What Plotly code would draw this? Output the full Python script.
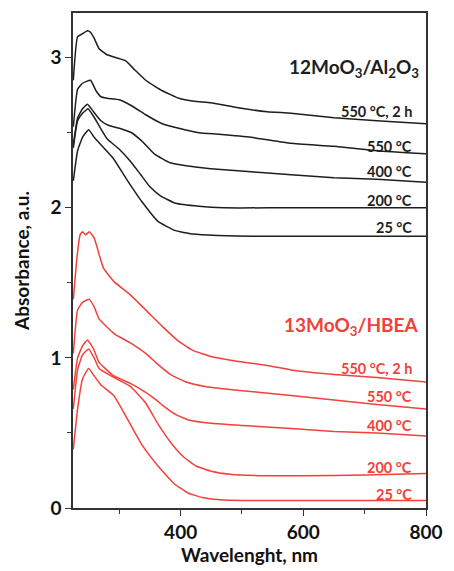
import plotly.graph_objects as go

# ---- data ----
# 12MoO3/Al2O3 (black)
al_550_2h_wl = [225, 232, 240, 248, 253, 259, 267, 280, 295, 310, 325, 343, 370, 397, 422, 449, 489, 541, 580, 650, 720, 800]
al_550_2h_a  = [2.85, 3.14, 3.16, 3.18, 3.17, 3.13, 3.06, 3.02, 3.00, 2.98, 2.92, 2.85, 2.78, 2.73, 2.71, 2.70, 2.67, 2.64, 2.63, 2.60, 2.58, 2.56]

al_550_wl = [225, 232, 240, 253, 262, 270, 280, 300, 320, 343, 370, 397, 430, 462, 515, 580, 650, 720, 800]
al_550_a  = [2.54, 2.79, 2.83, 2.85, 2.78, 2.74, 2.73, 2.72, 2.68, 2.62, 2.56, 2.53, 2.50, 2.49, 2.47, 2.43, 2.41, 2.38, 2.36]

al_400_wl = [225, 232, 240, 248, 258, 270, 282, 300, 320, 338, 357, 383, 409, 449, 515, 580, 650, 720, 800]
al_400_a  = [2.42, 2.60, 2.66, 2.69, 2.64, 2.58, 2.55, 2.53, 2.50, 2.44, 2.36, 2.30, 2.28, 2.26, 2.24, 2.22, 2.20, 2.19, 2.17]

al_200_wl = [225, 232, 240, 249, 258, 268, 280, 300, 318, 335, 350, 367, 392, 430, 470, 560, 650, 800]
al_200_a  = [2.40, 2.58, 2.63, 2.66, 2.61, 2.54, 2.46, 2.39, 2.31, 2.22, 2.14, 2.08, 2.03, 2.01, 2.00, 2.00, 2.00, 2.00]

al_25_wl = [225, 232, 240, 250, 259, 270, 290, 312, 337, 363, 390, 420, 460, 520, 600, 700, 800]
al_25_a  = [2.18, 2.38, 2.47, 2.52, 2.47, 2.42, 2.33, 2.19, 2.04, 1.91, 1.85, 1.825, 1.815, 1.81, 1.81, 1.81, 1.81]

# 13MoO3/HBEA (red)
hb_550_2h_wl = [225, 231, 236, 240, 245, 251, 259, 267, 274, 291, 318, 343, 370, 397, 420, 449, 489, 541, 580, 650, 720, 800]
hb_550_2h_a  = [1.39, 1.67, 1.82, 1.84, 1.82, 1.84, 1.80, 1.69, 1.60, 1.51, 1.42, 1.32, 1.21, 1.11, 1.05, 1.01, 0.98, 0.95, 0.92, 0.89, 0.87, 0.84]

hb_550_wl = [225, 232, 240, 251, 259, 267, 292, 318, 343, 362, 383, 409, 440, 480, 530, 580, 650, 720, 800]
hb_550_a  = [1.03, 1.32, 1.37, 1.39, 1.34, 1.26, 1.16, 1.10, 1.03, 0.96, 0.89, 0.84, 0.81, 0.79, 0.77, 0.75, 0.72, 0.69, 0.66]

hb_400_wl = [225, 232, 240, 248, 258, 267, 291, 318, 343, 360, 375, 393, 415, 450, 500, 580, 650, 720, 800]
hb_400_a  = [0.79, 1.00, 1.08, 1.12, 1.06, 0.97, 0.88, 0.83, 0.77, 0.72, 0.67, 0.62, 0.585, 0.565, 0.55, 0.53, 0.51, 0.50, 0.48]

hb_200_wl = [225, 232, 240, 250, 259, 267, 291, 318, 343, 363, 385, 405, 425, 450, 480, 530, 600, 700, 800]
hb_200_a  = [0.66, 0.92, 1.02, 1.06, 1.00, 0.93, 0.87, 0.81, 0.70, 0.56, 0.43, 0.34, 0.28, 0.245, 0.225, 0.215, 0.215, 0.22, 0.23]

hb_25_wl = [225, 232, 240, 250, 259, 270, 291, 315, 337, 363, 390, 412, 435, 465, 500, 560, 650, 800]
hb_25_a  = [0.39, 0.66, 0.86, 0.93, 0.88, 0.82, 0.75, 0.58, 0.42, 0.28, 0.16, 0.10, 0.07, 0.055, 0.05, 0.05, 0.05, 0.05]

al_labels = ["550 °C, 2 h", "550 °C", "400 °C", "200 °C", "25 °C"]
al_label_y = [2.64, 2.41, 2.24, 2.05, 1.87]
hb_labels = ["550 °C, 2 h", "550 °C", "400 °C", "200 °C", "25 °C"]
hb_label_y = [0.93, 0.74, 0.55, 0.27, 0.09]

al_title = "12MoO<sub>3</sub>/Al<sub>2</sub>O<sub>3</sub>"
hb_title = "13MoO<sub>3</sub>/HBEA"
al_title_y = 2.93
hb_title_y = 1.21

BLACK = "#1e1e1e"
RED = "#f2403a"
FONT = "Lato"

fig = go.Figure()
for wl, a in [(al_550_2h_wl, al_550_2h_a), (al_550_wl, al_550_a), (al_400_wl, al_400_a),
              (al_200_wl, al_200_a), (al_25_wl, al_25_a)]:
    fig.add_trace(go.Scatter(x=wl, y=a, mode="lines", line=dict(color=BLACK, width=1.5, shape="spline", smoothing=0.4),
                             showlegend=False, hoverinfo="skip"))
for wl, a in [(hb_550_2h_wl, hb_550_2h_a), (hb_550_wl, hb_550_a), (hb_400_wl, hb_400_a),
              (hb_200_wl, hb_200_a), (hb_25_wl, hb_25_a)]:
    fig.add_trace(go.Scatter(x=wl, y=a, mode="lines", line=dict(color=RED, width=1.5, shape="spline", smoothing=0.4),
                             showlegend=False, hoverinfo="skip"))

for t, y in zip(al_labels, al_label_y):
    fig.add_annotation(x=780, y=y, xref="x", yref="y", text=t, showarrow=False, xanchor="right",
                       font=dict(family=FONT, size=14.5, color=BLACK, weight="bold"))
for t, y in zip(hb_labels, hb_label_y):
    fig.add_annotation(x=780, y=y, xref="x", yref="y", text=t, showarrow=False, xanchor="right",
                       font=dict(family=FONT, size=14.5, color=RED, weight="bold"))
fig.add_annotation(x=792, y=al_title_y, xref="x", yref="y", text=al_title, showarrow=False, xanchor="right",
                   font=dict(family=FONT, size=19, color=BLACK, weight="bold"))
fig.add_annotation(x=792, y=hb_title_y, xref="x", yref="y", text=hb_title, showarrow=False, xanchor="right",
                   font=dict(family=FONT, size=19, color=RED, weight="bold"))

axis_common = dict(showline=True, linecolor="#333333", linewidth=1.5, mirror=True, showgrid=False, zeroline=False,
                   ticks="outside", ticklen=6, tickwidth=1.2, tickcolor="#333333",
                   tickfont=dict(family=FONT, size=19, color="#111111", weight="bold"))
fig.update_xaxes(range=[224.5, 800], tick0=0, dtick=200,
                 minor=dict(dtick=100, ticks="outside", ticklen=4, tickcolor="#333333", tickwidth=1.2),
                 title=dict(text="Wavelenght, nm", font=dict(family=FONT, size=19, color="#111111", weight="bold"), standoff=4),
                 **axis_common)
fig.update_yaxes(range=[0, 3.298], tick0=0, dtick=1,
                 minor=dict(dtick=0.5, ticks="outside", ticklen=4, tickcolor="#333333", tickwidth=1.2),
                 title=dict(text="Absorbance, a.u.", font=dict(family=FONT, size=19, color="#111111", weight="bold"), standoff=16),
                 **axis_common)
fig.update_layout(width=454, height=571, margin=dict(l=73, r=17, t=11, b=57),
                  paper_bgcolor="white", plot_bgcolor="white")
fig.write_html("out.html")
